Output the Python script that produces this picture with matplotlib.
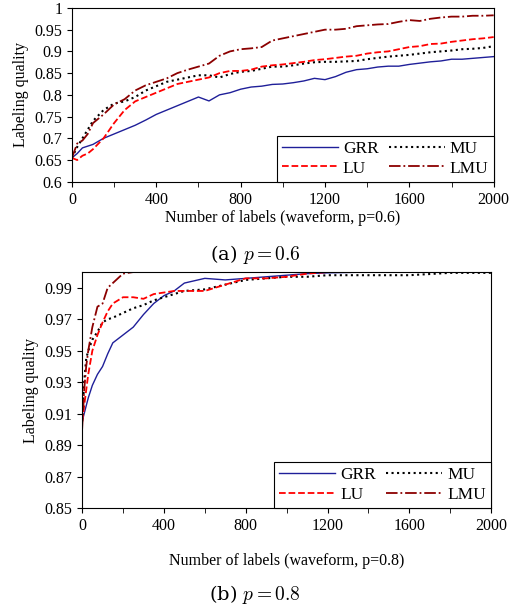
import matplotlib
matplotlib.use('Agg')
import matplotlib.pyplot as plt

plt.rcParams['font.family'] = ['Liberation Serif', 'DejaVu Serif']
plt.rcParams['mathtext.fontset'] = 'cm'

# (a) p = 0.6
xa = [0, 25, 50, 75, 100] + list(range(150, 2001, 50))
grr_a = [0.655, 0.665, 0.678, 0.682, 0.686, 0.70, 0.71, 0.72, 0.73, 0.742, 0.755, 0.765, 0.775, 0.785,
         0.795, 0.786, 0.80, 0.805, 0.813, 0.818, 0.82, 0.824, 0.825, 0.828, 0.832, 0.838, 0.835, 0.842,
         0.852, 0.858, 0.86, 0.864, 0.866, 0.866, 0.87, 0.873, 0.876, 0.878, 0.882, 0.882, 0.884, 0.886, 0.888]
mu_a = [0.655, 0.68, 0.70, 0.72, 0.74, 0.765, 0.78, 0.785, 0.795, 0.81, 0.82, 0.83, 0.835, 0.84,
        0.845, 0.845, 0.84, 0.848, 0.853, 0.855, 0.86, 0.865, 0.865, 0.868, 0.872, 0.875, 0.876, 0.876,
        0.877, 0.878, 0.882, 0.885, 0.888, 0.89, 0.892, 0.895, 0.898, 0.90, 0.902, 0.905, 0.906, 0.908, 0.912]
lu_a = [0.655, 0.65, 0.66, 0.665, 0.675, 0.70, 0.735, 0.765, 0.785, 0.795, 0.805, 0.815, 0.825, 0.83,
        0.835, 0.84, 0.85, 0.855, 0.855, 0.858, 0.865, 0.868, 0.87, 0.873, 0.876, 0.88, 0.882, 0.885,
        0.888, 0.89, 0.895, 0.898, 0.90, 0.905, 0.91, 0.912, 0.917, 0.918, 0.922, 0.925, 0.928, 0.93, 0.933]
lmu_a = [0.655, 0.688, 0.695, 0.71, 0.735, 0.755, 0.778, 0.79, 0.81, 0.822, 0.83, 0.838, 0.85, 0.858,
         0.865, 0.872, 0.89, 0.90, 0.905, 0.907, 0.91, 0.925, 0.93, 0.935, 0.94, 0.945, 0.95, 0.95,
         0.952, 0.958, 0.96, 0.962, 0.963, 0.968, 0.972, 0.97, 0.975, 0.978, 0.98, 0.98, 0.982, 0.982, 0.983]

# (b) p = 0.8
xb = [0, 10, 20, 30, 50, 75, 100, 125, 150, 200, 250, 300, 350, 400, 450, 500, 600, 700, 800,
      900, 1000, 1100, 1200, 1400, 1600, 1800, 2000]
grr_b = [0.905, 0.91, 0.915, 0.92, 0.928, 0.935, 0.94, 0.948, 0.955, 0.96, 0.965, 0.973, 0.98, 0.985,
         0.988, 0.993, 0.996, 0.995, 0.996, 0.997, 0.998, 0.999, 0.9995, 1.0, 1.0, 1.0, 1.0]
mu_b = [0.905, 0.93, 0.945, 0.95, 0.957, 0.962, 0.968, 0.97, 0.971, 0.974, 0.977, 0.979, 0.982, 0.984,
        0.986, 0.988, 0.989, 0.992, 0.995, 0.996, 0.997, 0.997, 0.998, 0.998, 0.998, 0.9995, 0.9995]
lu_b = [0.905, 0.915, 0.925, 0.935, 0.95, 0.96, 0.968, 0.975, 0.98, 0.984, 0.984, 0.983, 0.986, 0.987,
        0.988, 0.988, 0.988, 0.992, 0.996, 0.996, 0.997, 0.999, 1.0, 1.0, 1.0, 1.0, 1.0]
lmu_b = [0.90, 0.925, 0.94, 0.95, 0.965, 0.978, 0.98, 0.99, 0.993, 0.999, 1.0, 1.0, 1.0, 1.0,
         1.0, 1.0, 1.0, 1.0, 1.0, 1.0, 1.0, 1.0, 1.0, 1.0, 1.0, 1.0, 1.0]

styles = [('GRR', '-', '#1f1f99', 1.0), ('MU', ':', 'black', 1.5),
          ('LU', '--', 'red', 1.3), ('LMU', '-.', '#8b0000', 1.3)]

fig = plt.figure(figsize=(5.1, 6.1), dpi=100)
ax1 = fig.add_axes([0.141, 0.702, 0.827, 0.285])
ax2 = fig.add_axes([0.161, 0.167, 0.802, 0.387])


def draw(ax, x, series, ylim, yticks, xlabel):
    for (name, ls, c, lw), y in zip(styles, series):
        ax.plot(x, y, ls=ls, color=c, lw=lw, label=name)
    ax.set_xlim(0, 2000)
    ax.set_ylim(*ylim)
    ax.set_yticks(yticks)
    ax.set_xticks(range(0, 2001, 400))
    ax.set_xticks(range(0, 2001, 200), minor=True)
    ax.tick_params(direction='out', labelsize=11.5)
    ax.tick_params(which='minor', direction='out', length=3.5)
    ax.set_xlabel(xlabel, fontsize=11.5, labelpad=2)
    ax.set_ylabel('Labeling quality', fontsize=11.5)
    # legend order: GRR, LU in first column; MU, LMU in second
    h, l = ax.get_legend_handles_labels()
    order = [0, 2, 1, 3]
    leg = ax.legend([h[i] for i in order], [l[i] for i in order], ncol=2, loc='lower right',
                    fontsize=12.5, fancybox=False, edgecolor='black', framealpha=1,
                    borderaxespad=0, handlelength=3.2, columnspacing=0.6, handletextpad=0.3,
                    borderpad=0.3, labelspacing=0.2)
    leg.get_frame().set_linewidth(0.8)


draw(ax1, xa, [grr_a, mu_a, lu_a, lmu_a], (0.6, 1.0),
     [0.6, 0.65, 0.7, 0.75, 0.8, 0.85, 0.9, 0.95, 1.0], 'Number of labels (waveform, p=0.6)')
ax1.set_yticklabels(['0.6', '0.65', '0.7', '0.75', '0.8', '0.85', '0.9', '0.95', '1'])
draw(ax2, xb, [grr_b, mu_b, lu_b, lmu_b], (0.85, 1.0),
     [0.85, 0.87, 0.89, 0.91, 0.93, 0.95, 0.97, 0.99], 'Number of labels (waveform, p=0.8)')
ax2.xaxis.labelpad = 14

fig.text(0.5, 0.582, '(a) $p = 0.6$', ha='center', va='center', fontsize=14, family='DejaVu Serif')
fig.text(0.5, 0.026, '(b) $p = 0.8$', ha='center', va='center', fontsize=14, family='DejaVu Serif')

fig.savefig('out.png', dpi=100)
